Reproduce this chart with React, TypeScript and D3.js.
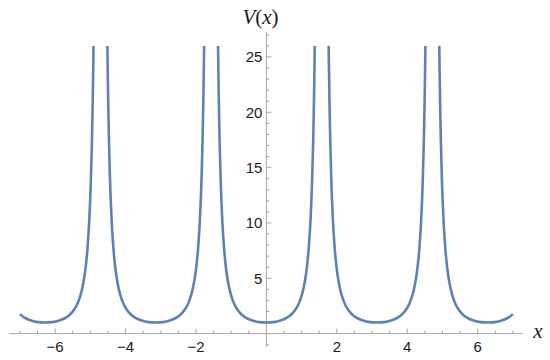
import React, { useEffect, useRef } from "react";
import * as d3 from "d3";

// branches of V(x) (clipped at the top of the plot range)
const B1_X = [-7, -6.883, -6.683, -6.483, -6.283, -6.083, -5.883, -5.683, -5.583, -5.483, -5.383, -5.333, -5.283, -5.233, -5.183, -5.133, -5.083, -5.033, -4.983, -4.953, -4.933, -4.923, -4.909];
const B1_V = [1.76, 1.47, 1.18, 1.04, 1.0, 1.04, 1.18, 1.47, 1.71, 2.06, 2.59, 2.96, 3.43, 4.04, 4.86, 5.99, 7.62, 10.06, 13.98, 17.58, 20.85, 22.84, 26];

const B2_X = [-4.515, -4.502, -4.492, -4.472, -4.442, -4.392, -4.342, -4.292, -4.242, -4.192, -4.142, -4.092, -4.042, -3.942, -3.842, -3.742, -3.542, -3.342, -3.142, -2.942, -2.742, -2.542, -2.442, -2.342, -2.242, -2.192, -2.142, -2.092, -2.042, -1.992, -1.942, -1.892, -1.842, -1.812, -1.792, -1.782, -1.768];
const B2_V = [26, 22.84, 20.85, 17.58, 13.98, 10.06, 7.62, 5.99, 4.86, 4.04, 3.43, 2.96, 2.59, 2.06, 1.71, 1.47, 1.18, 1.04, 1.0, 1.04, 1.18, 1.47, 1.71, 2.06, 2.59, 2.96, 3.43, 4.04, 4.86, 5.99, 7.62, 10.06, 13.98, 17.58, 20.85, 22.84, 26];

const B3_X = [-1.373, -1.36, -1.35, -1.33, -1.3, -1.25, -1.2, -1.15, -1.1, -1.05, -1.0, -0.95, -0.9, -0.8, -0.7, -0.6, -0.4, -0.2, 0, 0.2, 0.4, 0.6, 0.7, 0.8, 0.9, 0.95, 1.0, 1.05, 1.1, 1.15, 1.2, 1.25, 1.3, 1.33, 1.35, 1.36, 1.373];
const B3_V = [26, 22.84, 20.85, 17.58, 13.98, 10.06, 7.62, 5.99, 4.86, 4.04, 3.43, 2.96, 2.59, 2.06, 1.71, 1.47, 1.18, 1.04, 1.0, 1.04, 1.18, 1.47, 1.71, 2.06, 2.59, 2.96, 3.43, 4.04, 4.86, 5.99, 7.62, 10.06, 13.98, 17.58, 20.85, 22.84, 26];

const B4_X = [1.768, 1.782, 1.792, 1.812, 1.842, 1.892, 1.942, 1.992, 2.042, 2.092, 2.142, 2.192, 2.242, 2.342, 2.442, 2.542, 2.742, 2.942, 3.142, 3.342, 3.542, 3.742, 3.842, 3.942, 4.042, 4.092, 4.142, 4.192, 4.242, 4.292, 4.342, 4.392, 4.442, 4.472, 4.492, 4.502, 4.515];
const B4_V = [26, 22.84, 20.85, 17.58, 13.98, 10.06, 7.62, 5.99, 4.86, 4.04, 3.43, 2.96, 2.59, 2.06, 1.71, 1.47, 1.18, 1.04, 1.0, 1.04, 1.18, 1.47, 1.71, 2.06, 2.59, 2.96, 3.43, 4.04, 4.86, 5.99, 7.62, 10.06, 13.98, 17.58, 20.85, 22.84, 26];

const B5_X = [4.909, 4.923, 4.933, 4.953, 4.983, 5.033, 5.083, 5.133, 5.183, 5.233, 5.283, 5.333, 5.383, 5.483, 5.583, 5.683, 5.883, 6.083, 6.283, 6.483, 6.683, 6.883, 7];
const B5_V = [26, 22.84, 20.85, 17.58, 13.98, 10.06, 7.62, 5.99, 4.86, 4.04, 3.43, 2.96, 2.59, 2.06, 1.71, 1.47, 1.18, 1.04, 1.0, 1.04, 1.18, 1.47, 1.76];

const BRANCHES = [
  [B1_X, B1_V],
  [B2_X, B2_V],
  [B3_X, B3_V],
  [B4_X, B4_V],
  [B5_X, B5_V],
];

const X_MAJOR = [-6, -4, -2, 2, 4, 6];
const Y_MAJOR = [5, 10, 15, 20, 25];

const WIDTH = 550;
const HEIGHT = 360;
const LINE = "#5e81b5";
const AXIS = "#a6a6a6";
const TICK_FONT = "Liberation Sans, Arial, sans-serif";
const LABEL_FONT = "Liberation Serif, Times New Roman, serif";

export default function App() {
  const svgRef = useRef<SVGSVGElement>(null);

  useEffect(() => {
    const svg = d3.select(svgRef.current);
    svg.selectAll("*").remove();

    const x = d3.scaleLinear().domain([-7, 7]).range([19.9, 512.9]);
    const y = d3.scaleLinear().domain([0, 26]).range([333.6, 45.9]);

    const g = svg.append("g");

    // axes
    const x0 = x(0);
    const y0 = y(0);
    g.append("line")
      .attr("x1", x(-7.3)).attr("x2", x(7.28))
      .attr("y1", y0).attr("y2", y0)
      .attr("stroke", AXIS).attr("stroke-width", 1);
    g.append("line")
      .attr("x1", x0).attr("x2", x0)
      .attr("y1", y(-1.2)).attr("y2", y(27.3))
      .attr("stroke", AXIS).attr("stroke-width", 1);

    // x ticks (up from the axis)
    const xMinor = d3.range(-7, 7.01, 0.5).filter(v => v !== 0);
    g.append("g").selectAll("line").data(xMinor).join("line")
      .attr("x1", d => x(d)).attr("x2", d => x(d))
      .attr("y1", y0).attr("y2", d => y0 - (d % 2 === 0 ? 5 : 3))
      .attr("stroke", AXIS).attr("stroke-width", 1);

    g.append("g").selectAll("text").data(X_MAJOR).join("text")
      .attr("x", d => x(d)).attr("y", y0 + 18)
      .attr("text-anchor", "middle")
      .attr("font-family", TICK_FONT).attr("font-size", 15).attr("fill", "#1a1a1a")
      .text(d => (d < 0 ? "\u2212" + Math.abs(d) : String(d)));

    // y ticks (right of the axis)
    const yMinor = d3.range(-1, 27.01, 1).filter(v => v !== 0);
    g.append("g").selectAll("line").data(yMinor).join("line")
      .attr("x1", x0).attr("x2", d => x0 + (d % 5 === 0 ? 5 : 3))
      .attr("y1", d => y(d)).attr("y2", d => y(d))
      .attr("stroke", AXIS).attr("stroke-width", 1);

    g.append("g").selectAll("text").data(Y_MAJOR).join("text")
      .attr("x", x0 - 4).attr("y", d => y(d))
      .attr("dy", "0.36em")
      .attr("text-anchor", "end")
      .attr("font-family", TICK_FONT).attr("font-size", 15).attr("fill", "#1a1a1a")
      .text(d => String(d));

    // axis labels
    const vx = g.append("text")
      .attr("x", 260.5).attr("y", 24)
      .attr("text-anchor", "middle")
      .attr("font-family", LABEL_FONT).attr("font-size", 21).attr("fill", "#1a1a1a");
    vx.append("tspan").attr("font-style", "italic").text("V");
    vx.append("tspan").text("(");
    vx.append("tspan").attr("font-style", "italic").text("x");
    vx.append("tspan").text(")");

    g.append("text")
      .attr("x", 538).attr("y", y0 + 4)
      .attr("text-anchor", "middle")
      .attr("font-family", LABEL_FONT).attr("font-size", 21).attr("font-style", "italic")
      .attr("fill", "#1a1a1a")
      .text("x");

    // curve branches
    const line = d3.line<[number, number]>()
      .x(d => x(d[0]))
      .y(d => y(d[1]))
      .curve(d3.curveMonotoneX);

    g.append("g").selectAll("path").data(BRANCHES).join("path")
      .attr("d", ([xs, vs]) => line(xs.map((v, i) => [v, vs[i]] as [number, number])))
      .attr("fill", "none")
      .attr("stroke", LINE)
      .attr("stroke-width", 2.6)
      .attr("stroke-linejoin", "round");
  }, []);

  return (
    <svg
      ref={svgRef}
      width={WIDTH}
      height={HEIGHT}
      style={{ position: "absolute", left: 0, top: 0, display: "block", background: "#fff" }}
    />
  );
}
